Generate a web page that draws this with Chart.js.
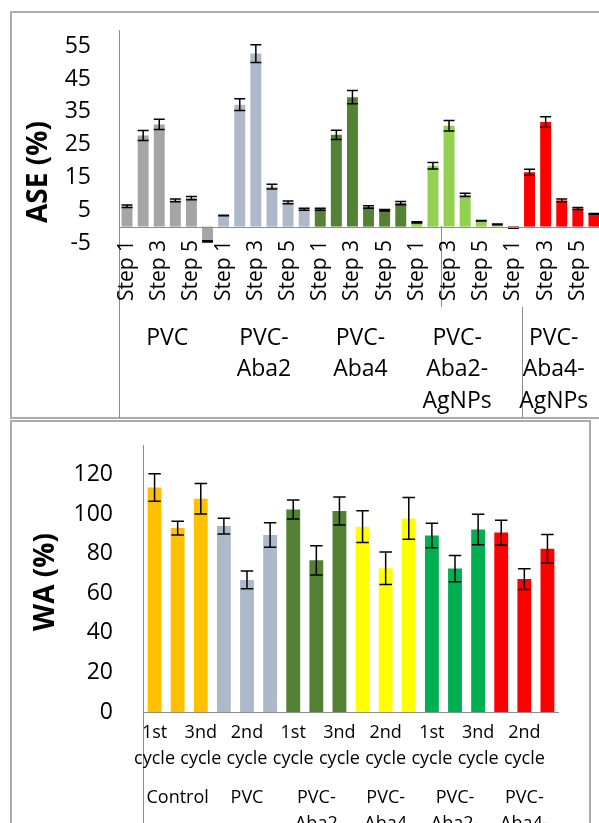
<!DOCTYPE html>
<html>
<head>
<meta charset="utf-8">
<script src="https://cdn.jsdelivr.net/npm/chart.js@4.4.1/dist/chart.umd.min.js"></script>
<style>
  html, body { margin: 0; padding: 0; background: #fff; overflow: hidden; }
  body { width: 599px; height: 823px; position: relative; }
  .frame { position: absolute; border: 2px solid #ABABAB; box-sizing: border-box; }
  #ase-frame { left: 10px; top: 11px; width: 620px; height: 408px; }
  #wa-frame { left: 10px; top: 420px; width: 581px; height: 430px; }
  canvas { position: absolute; left: 0; }
  #ase-chart { top: 0; }
  #wa-chart { top: 420px; }
</style>
</head>
<body>
<div class="frame" id="ase-frame"></div>
<div class="frame" id="wa-frame"></div>
<canvas id="ase-chart" width="610" height="420"></canvas>
<canvas id="wa-chart" width="599" height="403"></canvas>
<script>
// ---- ASE (%) panel data ----
const ASE_GROUPS = [['PVC'], ['PVC-', 'Aba2'], ['PVC-', 'Aba4'], ['PVC-', 'Aba2-', 'AgNPs'], ['PVC-', 'Aba4-', 'AgNPs']];
const ASE_STEPS = ['Step 1', 'Step 2', 'Step 3', 'Step 4', 'Step 5', 'Step 6'];
const ASE_COLORS = ['#A5A5A5', '#ADB9CA', '#548235', '#92D050', '#FF0000'];
const ASE_PVC = [6.2, 27.8, 31.2, 8.0, 8.7, -4.5];
const ASE_PVC_ABA2 = [3.4, 37.2, 52.8, 12.2, 7.4, 5.3];
const ASE_PVC_ABA4 = [5.3, 28.0, 39.5, 6.0, 5.0, 7.2];
const ASE_PVC_ABA2_AG = [1.3, 18.6, 30.8, 9.7, 1.8, 0.7];
const ASE_PVC_ABA4_AG = [-0.4, 16.6, 31.9, 8.0, 5.5, 3.9];
const ASE_PVC_ERR = [0.4, 1.5, 1.6, 0.4, 0.5, 0.2];
const ASE_PVC_ABA2_ERR = [0.1, 1.8, 2.7, 0.7, 0.4, 0.3];
const ASE_PVC_ABA4_ERR = [0.3, 1.4, 2.0, 0.4, 0.2, 0.5];
const ASE_PVC_ABA2_AG_ERR = [0.2, 1.0, 1.6, 0.5, 0.1, 0.1];
const ASE_PVC_ABA4_AG_ERR = [0.1, 0.9, 1.6, 0.4, 0.3, 0.1];
const ASE_TICKS = [-5, 5, 15, 25, 35, 45, 55];

// ---- WA (%) panel data ----
const WA_GROUPS = [['Control'], ['PVC'], ['PVC-', 'Aba2'], ['PVC-', 'Aba4'], ['PVC-', 'Aba2-', 'AgNPs'], ['PVC-', 'Aba4-', 'AgNPs']];
const WA_CYCLES = [['1st', 'cycle'], ['2nd', 'cycle'], ['3nd', 'cycle']];
const WA_COLORS = ['#FFC000', '#ADB9CA', '#548235', '#FFFF00', '#00B050', '#FF0000'];
const WA_CONTROL = [113.5, 93.0, 107.8];
const WA_PVC = [94.0, 66.8, 89.5];
const WA_PVC_ABA2 = [102.4, 76.7, 101.6];
const WA_PVC_ABA4 = [93.7, 72.7, 97.9];
const WA_PVC_ABA2_AG = [89.2, 72.5, 92.3];
const WA_PVC_ABA4_AG = [90.7, 67.2, 82.5];
const WA_CONTROL_ERR = [7.0, 3.5, 7.7];
const WA_PVC_ERR = [4.0, 4.5, 6.2];
const WA_PVC_ABA2_ERR = [4.8, 7.4, 7.1];
const WA_PVC_ABA4_ERR = [8.0, 8.2, 10.6];
const WA_PVC_ABA2_AG_ERR = [6.2, 6.6, 7.7];
const WA_PVC_ABA4_AG_ERR = [6.3, 5.2, 7.2];
const WA_TICKS = [0, 20, 40, 60, 80, 100, 120];

const FONT = '"Open Sans", "DejaVu Sans", sans-serif';

// flatten grouped series into one category axis
function flatten(groups, sub, values, errors, colors) {
  const labels = [], data = [], errs = [], bg = [];
  groups.forEach((g, gi) => {
    sub.forEach((s, si) => {
      labels.push(s);
      data.push(values[gi][si]);
      errs.push(errors[gi][si]);
      bg.push(colors[gi]);
    });
  });
  return { labels, data, errs, bg };
}

// Error bars: vertical whisker with caps
const errorBars = {
  id: 'errorBars',
  afterDatasetsDraw(chart, args, o) {
    const { ctx, scales: { y } } = chart;
    chart.data.datasets.forEach((ds, di) => {
      const meta = chart.getDatasetMeta(di);
      meta.data.forEach((bar, i) => {
        const v = ds.data[i], e = ds.errors[i];
        const yTop = y.getPixelForValue(v + e);
        const yBot = y.getPixelForValue(v - e);
        const half = bar.width * o.capRatio / 2;
        ctx.save();
        ctx.strokeStyle = o.color;
        ctx.lineWidth = o.lineWidth;
        ctx.beginPath();
        ctx.moveTo(bar.x, yTop); ctx.lineTo(bar.x, yBot);
        ctx.moveTo(bar.x - half, yTop); ctx.lineTo(bar.x + half, yTop);
        ctx.moveTo(bar.x - half, yBot); ctx.lineTo(bar.x + half, yBot);
        ctx.stroke();
        ctx.restore();
      });
    });
  }
};

// Excel-like multi-level category axis + value axis title
const groupAxis = {
  id: 'groupAxis',
  afterDraw(chart, args, o) {
    const { ctx, chartArea: ca, scales: { x, y } } = chart;
    const seg = (x1, y1, x2, y2) => { ctx.beginPath(); ctx.moveTo(x1, y1); ctx.lineTo(x2, y2); ctx.stroke(); };
    ctx.save();
    ctx.strokeStyle = o.lineColor;
    ctx.lineWidth = 1;
    const y0 = Math.round(y.getPixelForValue(0)) + 0.5;
    const xl = Math.round(ca.left) + 0.5;
    seg(ca.left, y0, ca.right, y0);
    seg(xl, ca.top, xl, o.axisBottom);
    (o.dividers || []).forEach(d => {
      const px = Math.round((x.getPixelForValue(d.at - 1) + x.getPixelForValue(d.at)) / 2) + 0.5;
      seg(px, d.from, px, d.to);
    });

    ctx.fillStyle = '#000';
    ctx.textBaseline = 'middle';
    // inner labels (every other category)
    ctx.font = o.tickFont;
    chart.data.labels.forEach((lab, i) => {
      if (i % 2) return;
      const px = x.getPixelForValue(i);
      if (o.rotate) {
        ctx.save();
        ctx.translate(px, o.tickTop);
        ctx.rotate(-Math.PI / 2);
        ctx.textAlign = 'right';
        ctx.fillText(lab, 0, 0);
        ctx.restore();
      } else {
        ctx.textAlign = 'center';
        [].concat(lab).forEach((line, li) => ctx.fillText(line, px, o.tickTop + li * o.tickLine));
      }
    });
    // outer group labels
    ctx.font = o.groupFont;
    ctx.textAlign = 'center';
    const n = o.perGroup;
    o.groups.forEach((g, gi) => {
      const cx = (x.getPixelForValue(gi * n) + x.getPixelForValue(gi * n + n - 1)) / 2;
      g.forEach((line, li) => ctx.fillText(line, cx, o.groupTop + li * o.groupLine));
    });
    // axis title
    ctx.font = o.titleFont;
    ctx.translate(o.titleX, o.titleY);
    ctx.rotate(-Math.PI / 2);
    ctx.fillText(o.title, 0, 0);
    ctx.restore();
  }
};

function valueAxis(min, max, ticks, width, pad) {
  return {
    min, max,
    afterBuildTicks: s => { s.ticks = ticks.map(v => ({ value: v })); },
    afterFit: s => { s.width = width; s.paddingTop = 0; s.paddingBottom = 0; },
    grid: { display: false, drawTicks: false },
    border: { display: false },
    ticks: { padding: pad, color: '#000', font: { family: FONT, size: 23 } }
  };
}

function draw() {
  const ase = flatten(ASE_GROUPS, ASE_STEPS,
    [ASE_PVC, ASE_PVC_ABA2, ASE_PVC_ABA4, ASE_PVC_ABA2_AG, ASE_PVC_ABA4_AG],
    [ASE_PVC_ERR, ASE_PVC_ABA2_ERR, ASE_PVC_ABA4_ERR, ASE_PVC_ABA2_AG_ERR, ASE_PVC_ABA4_AG_ERR],
    ASE_COLORS);

  new Chart(document.getElementById('ase-chart'), {
    type: 'bar',
    data: {
      labels: ase.labels,
      datasets: [{
        data: ase.data,
        errors: ase.errs,
        backgroundColor: ase.bg,
        barPercentage: 0.68,
        categoryPercentage: 1
      }]
    },
    options: {
      responsive: false,
      animation: false,
      devicePixelRatio: 1,
      layout: { padding: { left: 0, top: 30, right: 8, bottom: 177 } },
      plugins: {
        legend: { display: false },
        tooltip: { enabled: false },
        errorBars: { color: '#000', lineWidth: 1.5, capRatio: 1 },
        groupAxis: {
          lineColor: '#8C8C8C', axisBottom: 418,
          rotate: true, tickFont: `21px ${FONT}`, tickTop: 240,
          groups: ASE_GROUPS, perGroup: ASE_STEPS.length,
          groupFont: `23px ${FONT}`, groupTop: 338, groupLine: 31.5,
          dividers: [{ at: 20, from: 226, to: 307 }, { at: 25, from: 307, to: 418 }],
          title: 'ASE (%)', titleFont: `bold 28px ${FONT}`, titleX: 39, titleY: 172
        }
      },
      scales: {
        x: { display: false },
        y: valueAxis(-5, 60, ASE_TICKS, 119, 28)
      }
    },
    plugins: [errorBars, groupAxis]
  });

  const wa = flatten(WA_GROUPS, WA_CYCLES,
    [WA_CONTROL, WA_PVC, WA_PVC_ABA2, WA_PVC_ABA4, WA_PVC_ABA2_AG, WA_PVC_ABA4_AG],
    [WA_CONTROL_ERR, WA_PVC_ERR, WA_PVC_ABA2_ERR, WA_PVC_ABA4_ERR, WA_PVC_ABA2_AG_ERR, WA_PVC_ABA4_AG_ERR],
    WA_COLORS);

  new Chart(document.getElementById('wa-chart'), {
    type: 'bar',
    data: {
      labels: wa.labels,
      datasets: [{
        data: wa.data,
        errors: wa.errs,
        backgroundColor: wa.bg,
        barPercentage: 0.6,
        categoryPercentage: 1
      }]
    },
    options: {
      responsive: false,
      animation: false,
      devicePixelRatio: 1,
      layout: { padding: { left: 0, top: 25, right: 40, bottom: 111 } },
      plugins: {
        legend: { display: false },
        tooltip: { enabled: false },
        errorBars: { color: '#000', lineWidth: 1.5, capRatio: 0.9 },
        groupAxis: {
          lineColor: '#8C8C8C', axisBottom: 403,
          rotate: false, tickFont: `18px ${FONT}`, tickTop: 313, tickLine: 26,
          groups: WA_GROUPS, perGroup: WA_CYCLES.length,
          groupFont: `18px ${FONT}`, groupTop: 378, groupLine: 26,
          title: 'WA (%)', titleFont: `bold 28px ${FONT}`, titleX: 46, titleY: 162
        }
      },
      scales: {
        x: { display: false },
        y: valueAxis(0, 135, WA_TICKS, 143, 30)
      }
    },
    plugins: [errorBars, groupAxis]
  });
}

const fontsReady = document.fonts
  ? Promise.all([document.fonts.load(`23px ${FONT}`), document.fonts.load(`bold 28px ${FONT}`)]).catch(() => {})
  : Promise.resolve();
fontsReady.then(draw);
</script>
</body>
</html>
